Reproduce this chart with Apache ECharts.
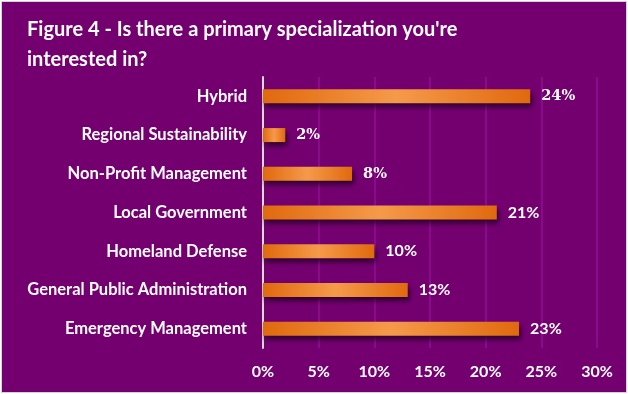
<!DOCTYPE html>
<html><head><meta charset="utf-8">
<script src="https://cdn.jsdelivr.net/npm/echarts@6/dist/echarts.min.js"></script>
<style>
html,body{margin:0;padding:0;background:#fff;}
#c{position:absolute;left:1px;top:1px;width:624px;height:390px;border:1px solid #d4d4d4;box-sizing:content-box;}
</style></head>
<body><div id="c"></div>
<script>
var categories = ["Hybrid","Regional Sustainability","Non-Profit Management","Local Government","Homeland Defense","General Public Administration","Emergency Management"];
var values = [24, 2, 8, 21, 10, 13, 23];
var tickLabels = ["0%","5%","10%","15%","20%","25%","30%"];
var titleText = "Figure 4 - Is there a primary specialization you're\ninterested in?";

var serifLabel = {fontFamily:'DejaVu Serif', fontWeight:'bold', fontSize:14.5};
var seriesData = values.map(function(v, i){
  return i < 3 ? {value: v, label: serifLabel} : {value: v};
});

var chart = echarts.init(document.getElementById('c'), null, {renderer:'canvas'});
chart.setOption({
  backgroundColor: '#740070',
  animation: false,
  title: {
    text: titleText, left: 20, top: 8,
    textStyle: {color:'#ffffff', fontFamily:'Lato', fontWeight:'bold', fontSize:20, lineHeight:30}
  },
  grid: {left: 261, right: 29, top: 75, bottom: 44, containLabel: false},
  xAxis: {
    type: 'value', min: 0, max: 30, interval: 5,
    axisLine: {show:false}, axisTick: {show:false},
    splitLine: {show:true, lineStyle:{color:'#8a0a8c', width:2}},
    axisLabel: {color:'#ffffff', fontFamily:'Lato', fontWeight:'bold', fontSize:16, margin:16,
      formatter: function(v){ return tickLabels[Math.round(v/5)]; }}
  },
  yAxis: {
    type: 'category', data: categories, inverse: true,
    axisLine: {show:true, lineStyle:{color:'#d9d9d9', width:2}},
    axisTick: {show:false},
    axisLabel: {color:'#ffffff', fontFamily:'Lato', fontWeight:'bold', fontSize:16.5, margin:16}
  },
  series: [{
    type: 'bar', data: seriesData, barWidth: 14,
    itemStyle: {
      color: new echarts.graphic.LinearGradient(0,0,1,0,[
        {offset:0, color:'#e0690e'},
        {offset:0.5, color:'#f59a4a'},
        {offset:1, color:'#e0690e'}
      ]),
      shadowColor: 'rgba(30,0,30,0.75)', shadowBlur: 5, shadowOffsetX: 2, shadowOffsetY: 4
    },
    label: {show:true, position:'right', distance:11, color:'#ffffff',
      fontFamily:'Lato', fontWeight:'bold', fontSize:16,
      formatter: function(p){ return p.value + '%'; }}
  }]
});
</script></body></html>
